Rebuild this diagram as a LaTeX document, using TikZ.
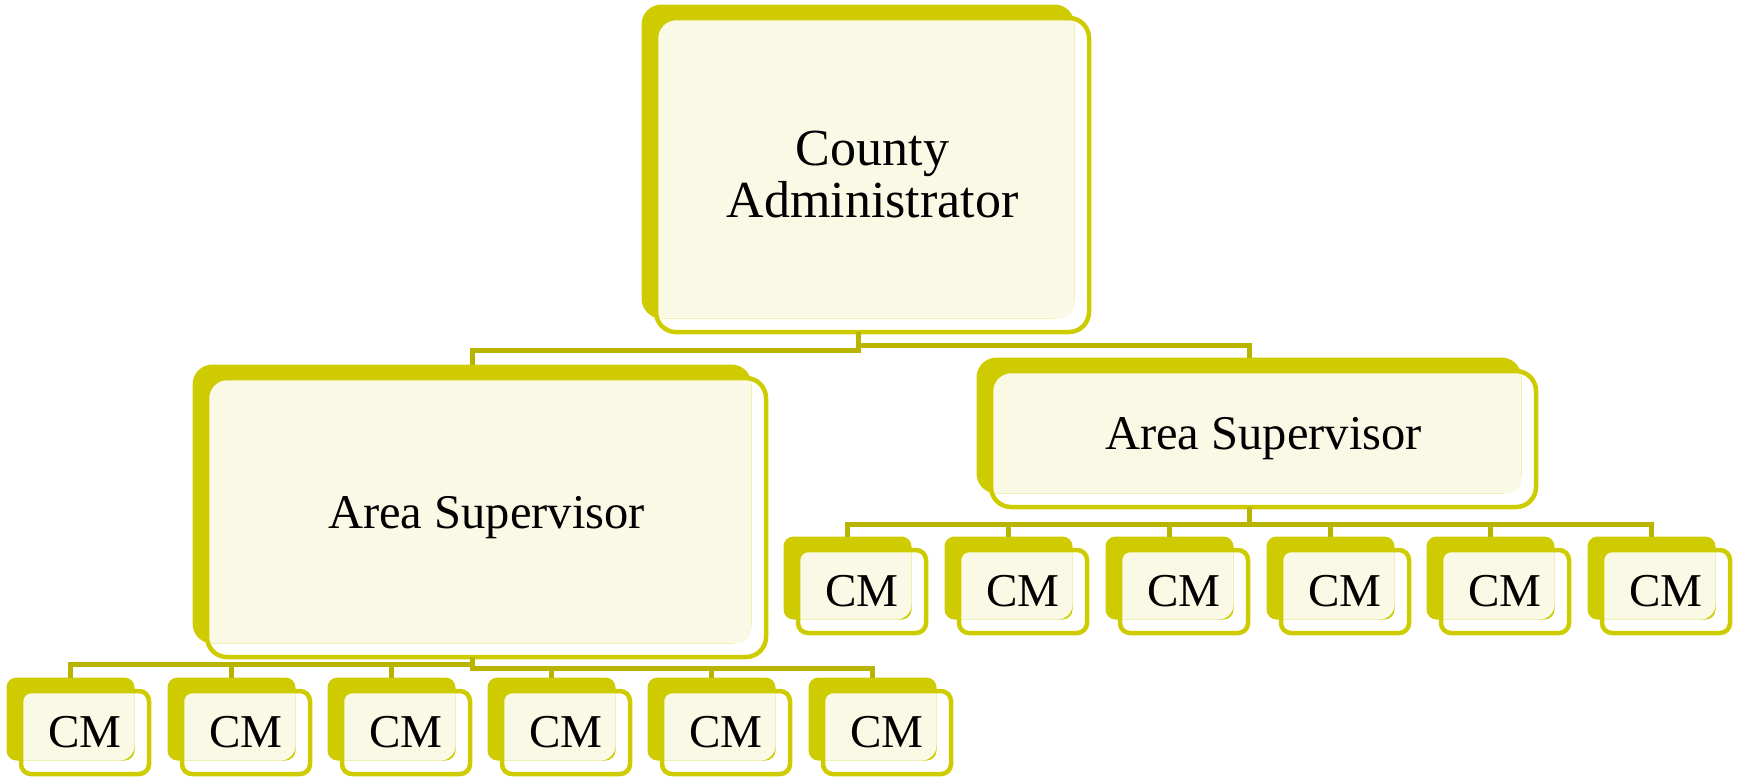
\documentclass[tikz,border=0pt]{standalone}
\usepackage{xcolor}
\usepackage{fontspec}
\setmainfont{Liberation Serif}
\usepackage{tikz}
\usetikzlibrary{positioning, shadows}
\definecolor{oliva}{RGB}{206, 204, 0}
\definecolor{crema}{RGB}{250, 249, 230}
\definecolor{rama}{RGB}{184, 180, 0}
\tikzset{
    caja/.style={rectangle, draw=oliva, line width=0.45mm, rounded corners=2mm, outer sep=0pt, inner sep=0pt, align=center, text=black,
        general shadow={fill=oliva, shadow xshift=-1.45mm, shadow yshift=1.35mm},
        path picture={\fill[crema, rounded corners=1.5mm] ([shift={(-1.45mm,1.35mm)}]path picture bounding box.north west) rectangle ([shift={(-1.45mm,1.35mm)}]path picture bounding box.south east);}},
    cmbox/.style={caja, rounded corners=1mm, minimum width=1.28cm, minimum height=0.83cm, font=\fontsize{13.4}{14}\selectfont},
    conn/.style={-, rama, line width=0.5mm},
}
\begin{document}
\begin{tikzpicture}[
        jefe/.style={caja, minimum width=4.33cm, minimum height=3.14cm, font=\fontsize{14.8}{14.8}\selectfont},
        area/.style={caja, font=\fontsize{13.8}{16}\selectfont},
    ]
    \useasboundingbox (0,0) rectangle (17.38,-7.78);

    \node[jefe] (ca) at (8.725,-1.75) {County\\Administrator};
    \node[area, minimum width=5.59cm, minimum height=2.79cm] (asl) at (4.865,-5.175) {Area Supervisor};
    \node[area, minimum width=5.45cm, minimum height=1.36cm] (asr) at (12.635,-4.39) {Area Supervisor};

    \node[cmbox] (l1) at (0.85,-7.325) {CM};
    \node[cmbox] (l2) at (2.46,-7.325) {CM};
    \node[cmbox] (l3) at (4.06,-7.325) {CM};
    \node[cmbox] (l4) at (5.66,-7.325) {CM};
    \node[cmbox] (l5) at (7.26,-7.325) {CM};
    \node[cmbox] (l6) at (8.87,-7.325) {CM};

    \node[cmbox] (r1) at (8.62,-5.915) {CM};
    \node[cmbox] (r2) at (10.23,-5.915) {CM};
    \node[cmbox] (r3) at (11.84,-5.915) {CM};
    \node[cmbox] (r4) at (13.45,-5.915) {CM};
    \node[cmbox] (r5) at (15.05,-5.915) {CM};
    \node[cmbox] (r6) at (16.66,-5.915) {CM};

    \draw[conn] ([xshift=-1.45mm]ca.south) -- ++(0,-1.8mm) -| ([shift={(-1.45mm,1.35mm)}]asl.north);
    \draw[conn] ([xshift=-1.45mm]ca.south) -- ++(0,-1.3mm) -| ([shift={(-1.45mm,1.35mm)}]asr.north);

    \draw[conn] ([xshift=-1.45mm]asl.south) -- ++(0,-0.7mm) -| ([shift={(-1.45mm,1.35mm)}]l1.north);
    \draw[conn] ([xshift=-1.45mm]asl.south) -- ++(0,-0.7mm) -| ([shift={(-1.45mm,1.35mm)}]l2.north);
    \draw[conn] ([xshift=-1.45mm]asl.south) -- ++(0,-0.7mm) -| ([shift={(-1.45mm,1.35mm)}]l3.north);
    \draw[conn] ([xshift=-1.45mm]asl.south) -- ++(0,-1.1mm) -| ([shift={(-1.45mm,1.35mm)}]l4.north);
    \draw[conn] ([xshift=-1.45mm]asl.south) -- ++(0,-1.1mm) -| ([shift={(-1.45mm,1.35mm)}]l5.north);
    \draw[conn] ([xshift=-1.45mm]asl.south) -- ++(0,-1.1mm) -| ([shift={(-1.45mm,1.35mm)}]l6.north);

    \draw[conn] ([xshift=-1.45mm]asr.south) -- ++(0,-1.7mm) -| ([shift={(-1.45mm,1.35mm)}]r1.north);
    \draw[conn] ([xshift=-1.45mm]asr.south) -- ++(0,-1.7mm) -| ([shift={(-1.45mm,1.35mm)}]r2.north);
    \draw[conn] ([xshift=-1.45mm]asr.south) -- ++(0,-1.7mm) -| ([shift={(-1.45mm,1.35mm)}]r3.north);
    \draw[conn] ([xshift=-1.45mm]asr.south) -- ++(0,-1.7mm) -| ([shift={(-1.45mm,1.35mm)}]r4.north);
    \draw[conn] ([xshift=-1.45mm]asr.south) -- ++(0,-1.7mm) -| ([shift={(-1.45mm,1.35mm)}]r5.north);
    \draw[conn] ([xshift=-1.45mm]asr.south) -- ++(0,-1.7mm) -| ([shift={(-1.45mm,1.35mm)}]r6.north);
\end{tikzpicture}
\end{document}
